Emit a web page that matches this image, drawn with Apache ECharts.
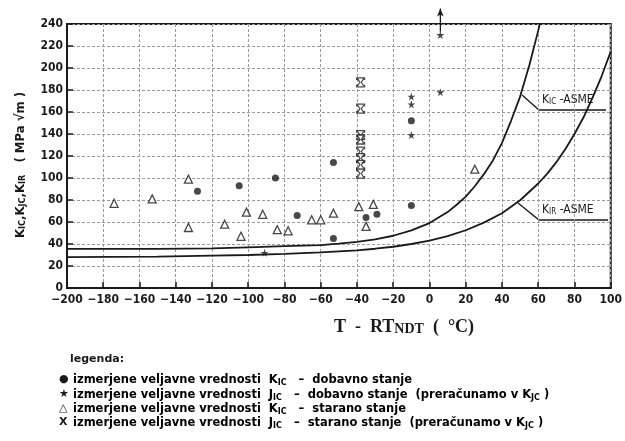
<!DOCTYPE html>
<html><head><meta charset="utf-8">
<script src="https://cdn.jsdelivr.net/npm/echarts@6/dist/echarts.min.js"></script>
<style>html,body{margin:0;padding:0;background:#fff}#c{width:625px;height:441px}</style>
</head><body><div id="c"></div>
<script>
// Axis ranges / ticks
const xMin = -200, xMax = 100, xStep = 20;
const yMin = 0, yMax = 240, yStep = 20;

// Measured K_IC – as-received (filled dots)
const kicReceived = [[-128,88],[-105,93],[-85,100],[-73,66],[-53,114],[-53,45],[-35,64],[-29,67],[-10,75],[-10,152]];
// Measured J_IC – as-received (stars)
const jicReceived = [[-91,32],[-10,174],[-10,167],[-10,139],[6,178],[6,230]];
// Measured K_IC – aged (open triangles)
const kicAged = [[-174,77],[-153,81],[-133,99],[-133,55],[-113,58],[-104,47],[-101,69],[-92,67],[-84,53],[-78,52],[-65,62],[-60,62],[-53,68],[-39,74],[-31,76],[-35,56],[25,108]];
// Measured J_IC – aged (hourglass)
const jicAged = [[-38,187],[-38,163],[-38,139],[-38,135],[-38,124],[-38,118],[-38,112],[-38,104]];
// Arrow above the top star (value beyond the axis)
const arrowPts = [[6,233],[6,254]];

// ASME reference curves
const kicAsme = [[-200,35.5],[-150,35.5],[-120,36],[-100,37],[-80,38],[-60,39],[-50,40.3],[-40,42],[-30,44.3],[-20,47.5],[-10,52.4],[0,59],[5,64],[10,69],[15,75.7],[20,83],[25,92.5],[30,103.5],[35,116],[40,132],[45,152],[50,174],[55,202],[60,234],[62,248]];
const kirAsme = [[-200,28],[-150,28.5],[-120,29.5],[-100,30],[-80,31],[-60,32.3],[-40,34.2],[-30,35.7],[-20,37.5],[-10,40],[0,43],[10,47.2],[20,52.5],[30,59.4],[40,68],[50,79.8],[60,95],[65,104],[70,114.4],[75,126.3],[80,140],[85,155.2],[90,173],[95,192.7],[100,215]];

const FONT = '"DejaVu Sans Condensed","DejaVu Sans",sans-serif';
const LFONT = '"DejaVu Sans",sans-serif';
const INK = '#1a1a1a';
const star = 'path://M50,0 L61,35 L98,35 L68,57 L79,91 L50,70 L21,91 L32,57 L2,35 L39,35 Z';
const hourglass = 'path://M0,0 L10,0 L10,1.6 L8.4,1.6 L5.9,5 L8.4,8.4 L10,8.4 L10,10 L0,10 L0,8.4 L1.6,8.4 L4.1,5 L1.6,1.6 L0,1.6 Z';

const chart = echarts.init(document.getElementById('c'), null, {renderer:'canvas'});

const sub = {fontSize: 9, fontFamily: FONT, fontWeight: 'bold', color: INK, verticalAlign: 'bottom', lineHeight: 10};
const legRich = {
  t: {fontSize: 11.5, fontFamily: LFONT, fontWeight: 'bold', color: INK, lineHeight: 14},
  s: {fontSize: 8, fontFamily: LFONT, fontWeight: 'bold', color: INK, lineHeight: 9, verticalAlign: 'bottom'}
};

function legendRow(y, sym, text) {
  return [
    {type:'text', left: 59, top: y, style:{text: sym, font: 'bold 11px ' + LFONT, fill: INK}},
    {type:'text', left: 73, top: y, style:{text: text, rich: legRich}}
  ];
}

const gridStyle = {color: '#9a9a9a', type: [3,2], width: 1};

chart.setOption({
  backgroundColor: '#fff',
  animation: false,
  grid: {left: 67, right: 12, top: 24, bottom: 153, show: true, borderColor: INK, borderWidth: 2, backgroundColor: 'transparent'},
  xAxis: {
    type: 'value', min: xMin, max: xMax, interval: xStep,
    axisLine: {show: true, onZero: false, lineStyle: {color: INK, width: 2}},
    axisTick: {show: true, inside: true, length: 6, lineStyle: {color: INK, width: 1.5}},
    splitLine: {show: true, lineStyle: gridStyle},
    axisLabel: {color: INK, fontFamily: FONT, fontWeight: 'bold', fontSize: 12, margin: 6,
      formatter: v => v < 0 ? '\u2212' + Math.abs(v) : String(v)}
  },
  yAxis: {
    type: 'value', min: yMin, max: yMax, interval: yStep,
    axisLine: {show: true, onZero: false, lineStyle: {color: INK, width: 2}},
    axisTick: {show: true, inside: true, length: 6, lineStyle: {color: INK, width: 1.5}},
    splitLine: {show: true, lineStyle: gridStyle},
    axisLabel: {color: INK, fontFamily: FONT, fontWeight: 'bold', fontSize: 12, margin: 4},
    name: 'K{s|IC},K{s|JC},K{s|IR}   ( MPa \u221Am )',
    nameLocation: 'middle', nameRotate: 90, nameGap: 40,
    nameTextStyle: {color: INK, fontFamily: FONT, fontWeight: 'bold', fontSize: 13, padding: [0,0,0,-18], rich: {s: sub}}
  },
  series: [
    {type:'line', data: kicAsme, smooth: false, symbol:'none', clip: true,
      lineStyle:{color: INK, width: 1.8}, z: 3},
    {type:'line', data: kirAsme, smooth: false, symbol:'none', clip: true,
      lineStyle:{color: INK, width: 1.8}, z: 3},
    {type:'scatter', data: kicReceived, symbol:'circle', symbolSize: 7, itemStyle:{color: INK}, z: 5},
    {type:'scatter', data: jicReceived, symbol: star, symbolSize: 8, itemStyle:{color: INK}, z: 5},
    {type:'scatter', data: kicAged, symbol:'triangle', symbolSize: 8,
      itemStyle:{color:'#fff', borderColor: INK, borderWidth: 1.3}, z: 5},
    {type:'scatter', data: jicAged, symbol: hourglass, symbolSize: [8,9],
      itemStyle:{color:'#fff', borderColor: INK, borderWidth: 1.2}, z: 5},
    {type:'line', data: arrowPts.map((p,i)=>({value:p, symbol: i===0?'none':'arrow', symbolSize:[5,8]})),
      clip: false, lineStyle:{color: INK, width: 1.3}, itemStyle:{color: INK}, z: 6}
  ],
  graphic: [
    // curve annotations
    {type:'polyline', shape:{points:[[522,95],[539,110],[606,110]]}, style:{stroke: INK, lineWidth: 1.3, fill: null}},
    {type:'text', left: 542, top: 94, style:{text:'K{s|IC} -ASME', rich:{s:{fontSize:8, fontFamily: FONT, fill: INK, verticalAlign:'bottom', lineHeight: 10}}, font: '12px ' + FONT, fill: INK}},
    {type:'polyline', shape:{points:[[518,203],[539,220],[608,220]]}, style:{stroke: INK, lineWidth: 1.3, fill: null}},
    {type:'text', left: 542, top: 204, style:{text:'K{s|IR} -ASME', rich:{s:{fontSize:8, fontFamily: FONT, fill: INK, verticalAlign:'bottom', lineHeight: 10}}, font: '12px ' + FONT, fill: INK}},
    // x axis title
    {type:'text', left: 334, top: 318, style:{text:'T  -  RT{n|NDT}  (  \u00B0C)', font: 'bold 18px "Liberation Serif","DejaVu Serif",serif', fill: INK,
      rich:{n:{fontSize: 14, fontWeight:'bold', fontFamily:'"Liberation Serif",serif', verticalAlign:'bottom', lineHeight: 15}}}},
    // legend
    {type:'text', left: 70, top: 354, style:{text:'legenda:', font: 'bold 11px ' + LFONT, fill: INK}},
    ...legendRow(374, '\u25CF', '{t|izmerjene veljavne vrednosti  K}{s|IC}{t|   \u2013  dobavno stanje}'),
    ...legendRow(389, '\u2605', '{t|izmerjene veljavne vrednosti  J}{s|IC}{t|   \u2013  dobavno stanje  (preračunamo v K}{s|JC}{t| )}'),
    ...legendRow(403, '\u25B3', '{t|izmerjene veljavne vrednosti  K}{s|IC}{t|   \u2013  starano stanje}'),
    ...legendRow(417, '\u2169', '{t|izmerjene veljavne vrednosti  J}{s|IC}{t|   \u2013  starano stanje  (preračunamo v K}{s|JC}{t| )}')
  ]
});
</script></body></html>
